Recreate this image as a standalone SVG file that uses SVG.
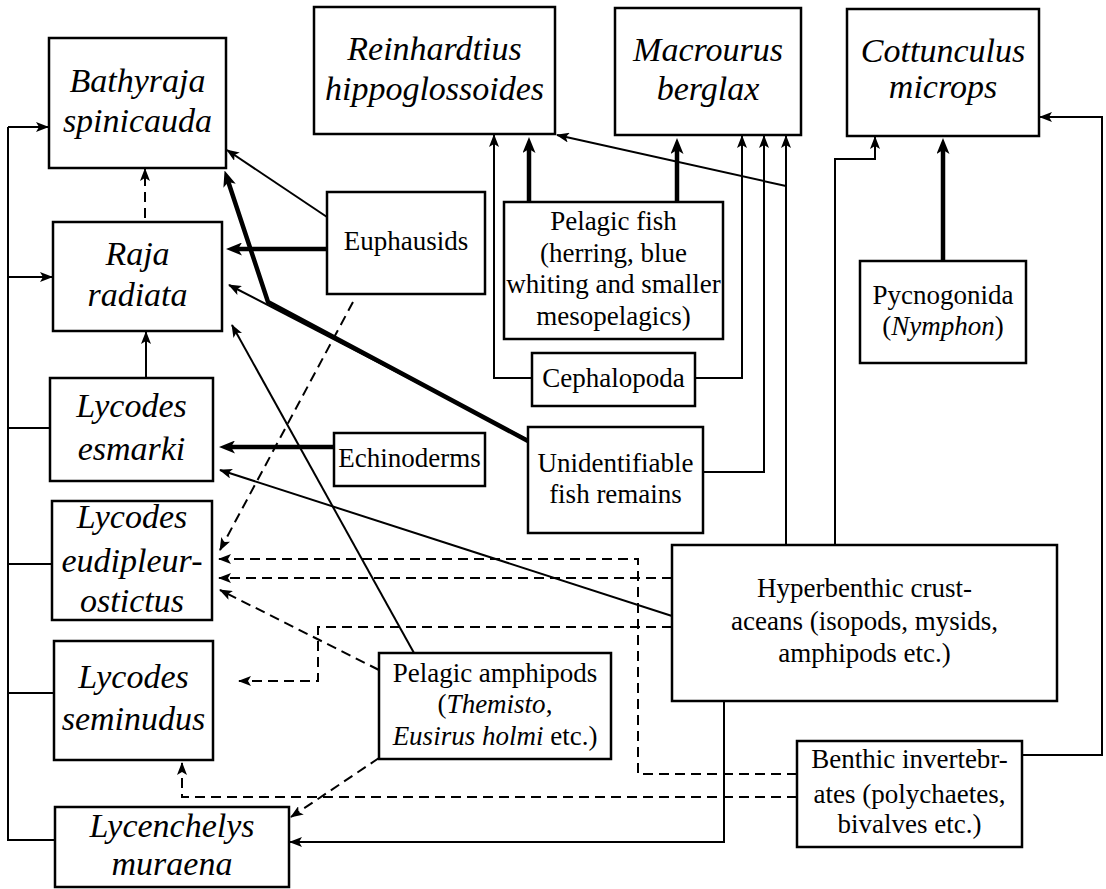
<svg xmlns="http://www.w3.org/2000/svg" width="1106" height="889" viewBox="0 0 1106 889">
<style>
.box{fill:#fff;stroke:#000;stroke-width:2.5}
text{font-family:Liberation Serif,DejaVu Serif,Noto Serif,serif;text-anchor:middle;fill:#000}
.sp{font-style:italic;font-size:34px}
.rg{font-size:27px}
.it{font-style:italic}
.thin{fill:none;stroke:#000;stroke-width:2}
.thick{fill:none;stroke:#000;stroke-width:4.5}
.dash{fill:none;stroke:#000;stroke-width:2;stroke-dasharray:10 6}
.ah{marker-end:url(#a)}
.ahk{marker-end:url(#ak)}
</style>
<defs>
<marker id="a" viewBox="0 0 13 10" refX="12" refY="5" markerWidth="13" markerHeight="10" markerUnits="userSpaceOnUse" orient="auto">
<path d="M13,5 L0,0 L3,5 L0,10 z" fill="#000"/>
</marker>
<marker id="ak" viewBox="0 0 16 13" refX="5" refY="6.5" markerWidth="16" markerHeight="13" markerUnits="userSpaceOnUse" orient="auto">
<path d="M16,6.5 L0,0 L4,6.5 L0,13 z" fill="#000"/>
</marker>
</defs>
<rect width="1106" height="889" fill="#fff"/>
<g id="connectors">
<path class="thin ah" d="M8,127 H48"/>
<path class="thin ah" d="M8,277 H52"/>
<path class="thin" d="M8,127 V840 H55 M8,428 H50 M8,564 H52 M8,693 H54"/>
<path class="thin ah" d="M327,217 L227,150"/>
<path class="thin ah" d="M146,378 V332"/>
<path class="thin ah" d="M528,440 L229,285"/>
<path class="thin ah" d="M414,653 L232,325"/>
<path class="thin ah" d="M672,616 L220,470"/>
<path class="thin ah" d="M532,378 H494 V135"/>
<path class="thin ah" d="M695,378 H742 V136"/>
<path class="thin ah" d="M703,472 H764 V136"/>
<path class="thin ah" d="M786,545 V136"/>
<path class="thin ah" d="M786,186 L557,135"/>
<path class="thin ah" d="M835,545 V159 H875 V137"/>
<path class="thin ah" d="M1022,755 H1102 V117 H1040"/>
<path class="thin ah" d="M724,701 V842 H290"/>
<path class="thick ahk" d="M327,249 H237"/>
<path class="thick ahk" d="M528,441 L268,302 L228,181"/>
<path class="thick ahk" d="M529,202 V148"/>
<path class="thick ahk" d="M677,202 V149"/>
<path class="thick ahk" d="M943,261 V149"/>
<path class="thick ahk" d="M334,447 H230"/>
<path class="dash ah" d="M145,218 V169"/>
<path class="dash ah" d="M353,302 L220,550"/>
<path class="dash ah" d="M797,774 H638 V559 H219"/>
<path class="dash ah" d="M672,578 H219"/>
<path class="dash ah" d="M379,670 L220,590"/>
<path class="dash ah" d="M672,627 H318 V681 H239"/>
<path class="dash ah" d="M379,758 L291,817"/>
<path class="dash ah" d="M797,797 H182 V763"/>
</g>
<g id="bathyraja"><rect class="box" x="49" y="38" width="177" height="130"/><text class="sp" x="137.5" y="92">Bathyraja</text><text class="sp" x="137.5" y="132">spinicauda</text></g>
<g id="reinhardtius"><rect class="box" x="314" y="7" width="241" height="127"/><text class="sp" x="434.5" y="60">Reinhardtius</text><text class="sp" x="434.5" y="100">hippoglossoides</text></g>
<g id="macrourus"><rect class="box" x="615" y="8" width="186" height="127"/><text class="sp" x="708" y="61">Macrourus</text><text class="sp" x="708" y="100">berglax</text></g>
<g id="cottunculus"><rect class="box" x="847" y="9" width="192" height="127"/><text class="sp" x="943" y="62">Cottunculus</text><text class="sp" x="943" y="98">microps</text></g>
<g id="raja"><rect class="box" x="53" y="222" width="169" height="109"/><text class="sp" x="137.5" y="265">Raja</text><text class="sp" x="137.5" y="306">radiata</text></g>
<g id="euphausids"><rect class="box" x="327" y="192" width="158" height="102"/><text class="rg" x="406" y="250">Euphausids</text></g>
<g id="pelagicfish"><rect class="box" x="504" y="202" width="219" height="137"/><text class="rg" x="613.5" y="230">Pelagic fish</text><text class="rg" x="613.5" y="262">(herring, blue</text><text class="rg" x="613.5" y="293">whiting and smaller</text><text class="rg" x="613.5" y="325">mesopelagics)</text></g>
<g id="pycnogonida"><rect class="box" x="860" y="261" width="166" height="102"/><text class="rg" x="943" y="304">Pycnogonida</text><text class="rg" x="943" y="335">(<tspan class="it">Nymphon</tspan>)</text></g>
<g id="cephalopoda"><rect class="box" x="532" y="353" width="163" height="53"/><text class="rg" x="613.5" y="387">Cephalopoda</text></g>
<g id="esmarki"><rect class="box" x="50" y="378" width="163" height="103"/><text class="sp" x="131.5" y="417">Lycodes</text><text class="sp" x="131.5" y="460">esmarki</text></g>
<g id="echinoderms"><rect class="box" x="334" y="433" width="151" height="53"/><text class="rg" x="409.5" y="467">Echinoderms</text></g>
<g id="unidentifiable"><rect class="box" x="528" y="427" width="175" height="106"/><text class="rg" x="615.5" y="472">Unidentifiable</text><text class="rg" x="615.5" y="503">fish remains</text></g>
<g id="eudipleurostictus"><rect class="box" x="52" y="501" width="160" height="119"/><text class="sp" x="132" y="528">Lycodes</text><text class="sp" x="132" y="572">eudipleur-</text><text class="sp" x="132" y="612">ostictus</text></g>
<g id="hyperbenthic"><rect class="box" x="672" y="545" width="385" height="156"/><text class="rg" x="864.5" y="597">Hyperbenthic crust-</text><text class="rg" x="864.5" y="630">aceans (isopods, mysids,</text><text class="rg" x="864.5" y="662">amphipods etc.)</text></g>
<g id="seminudus"><rect class="box" x="54" y="641" width="159" height="119"/><text class="sp" x="133.5" y="688">Lycodes</text><text class="sp" x="133.5" y="730">seminudus</text></g>
<g id="amphipods"><rect class="box" x="379" y="653" width="232" height="106"/><text class="rg" x="495" y="682">Pelagic amphipods</text><text class="rg" x="495" y="713">(<tspan class="it">Themisto</tspan>,</text><text class="rg" x="495" y="745"><tspan class="it">Eusirus holmi</tspan> etc.)</text></g>
<g id="benthic"><rect class="box" x="797" y="741" width="225" height="106"/><text class="rg" x="909.5" y="768">Benthic invertebr-</text><text class="rg" x="909.5" y="803">ates (polychaetes,</text><text class="rg" x="909.5" y="833">bivalves etc.)</text></g>
<g id="lycenchelys"><rect class="box" x="55" y="807" width="234" height="80"/><text class="sp" x="172" y="837">Lycenchelys</text><text class="sp" x="172" y="875">muraena</text></g>
</svg>
